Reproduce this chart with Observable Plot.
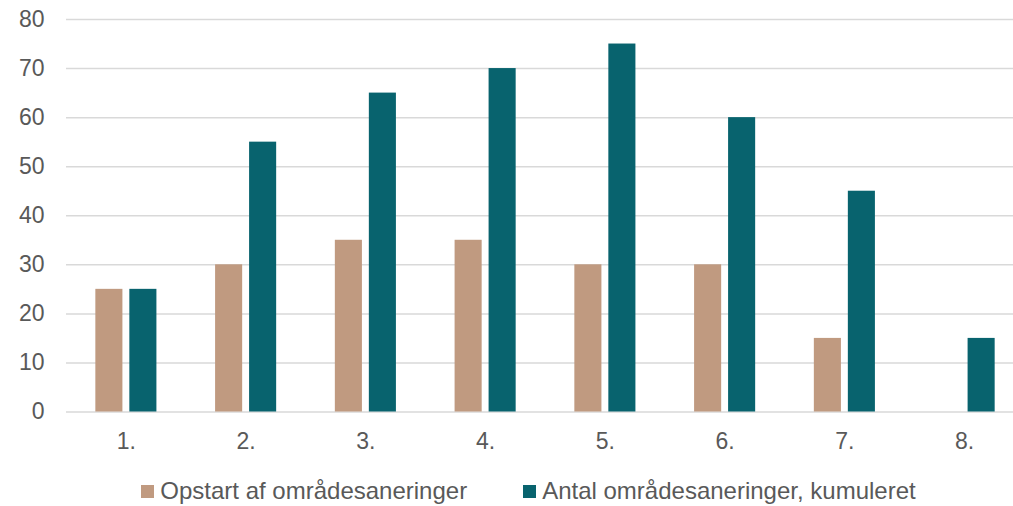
<!DOCTYPE html>
<html>
<head>
<meta charset="utf-8">
<script src="https://cdn.jsdelivr.net/npm/d3@7"></script>
<script src="https://cdn.jsdelivr.net/npm/@observablehq/plot@0.6"></script>
<style>
  body { margin: 0; background: #fff; font-family: "Liberation Sans", Arial, sans-serif; }
  #legend { display: flex; justify-content: center; gap: 56px; font-size: 24px; line-height: 26px; color: #595959; padding-top: 13px; padding-left: 44px; }
  #legend span.item { display: flex; align-items: center; }
  #legend i { display: inline-block; width: 13px; height: 13px; margin-right: 6px; }
</style>
</head>
<body>
<div id="chart"></div>
<div id="legend"></div>
<script>
const categories = ["1.", "2.", "3.", "4.", "5.", "6.", "7.", "8."];
const seriesNames = ["Opstart af områdesaneringer", "Antal områdesaneringer, kumuleret"];
const opstart = [25, 30, 35, 35, 30, 30, 15, null];
const kumuleret = [25, 55, 65, 70, 75, 60, 45, 15];
const colors = ["#C09A80", "#08636E"];
const yTicks = [0, 10, 20, 30, 40, 50, 60, 70, 80];

const rows1 = categories.map((c, i) => ({category: c, value: opstart[i]})).filter(d => d.value != null);
const rows2 = categories.map((c, i) => ({category: c, value: kumuleret[i]}));

const chart = Plot.plot({
  width: 1013,
  height: 465,
  marginLeft: 66,
  marginRight: 0,
  marginTop: 19,
  marginBottom: 53.5,
  style: {fontFamily: "'Liberation Sans', Arial, sans-serif", fontSize: "23px", color: "#595959"},
  x: {domain: categories, range: [66, 1024], paddingInner: 0.49, paddingOuter: 0.245, round: false, label: null},
  y: {domain: [0, 80], ticks: yTicks, label: null},
  marks: [
    Plot.ruleY(yTicks, {stroke: "#D9D9D9", strokeWidth: 1.5}),
    Plot.barY(rows1, {x: "category", y: "value", fill: colors[0], insetRight: 34}),
    Plot.barY(rows2, {x: "category", y: "value", fill: colors[1], insetLeft: 34}),
    Plot.axisY({ticks: yTicks, tickSize: 0, tickPadding: 22, label: null, fontSize: 23}),
    Plot.axisX({tickSize: 0, tickPadding: 21, label: null, fontSize: 23})
  ]
});
document.getElementById("chart").appendChild(chart);

const legend = document.getElementById("legend");
seriesNames.forEach((n, i) => {
  const s = document.createElement("span");
  s.className = "item";
  s.innerHTML = `<i style="background:${colors[i]}"></i>${n}`;
  legend.appendChild(s);
});
</script>
</body>
</html>
